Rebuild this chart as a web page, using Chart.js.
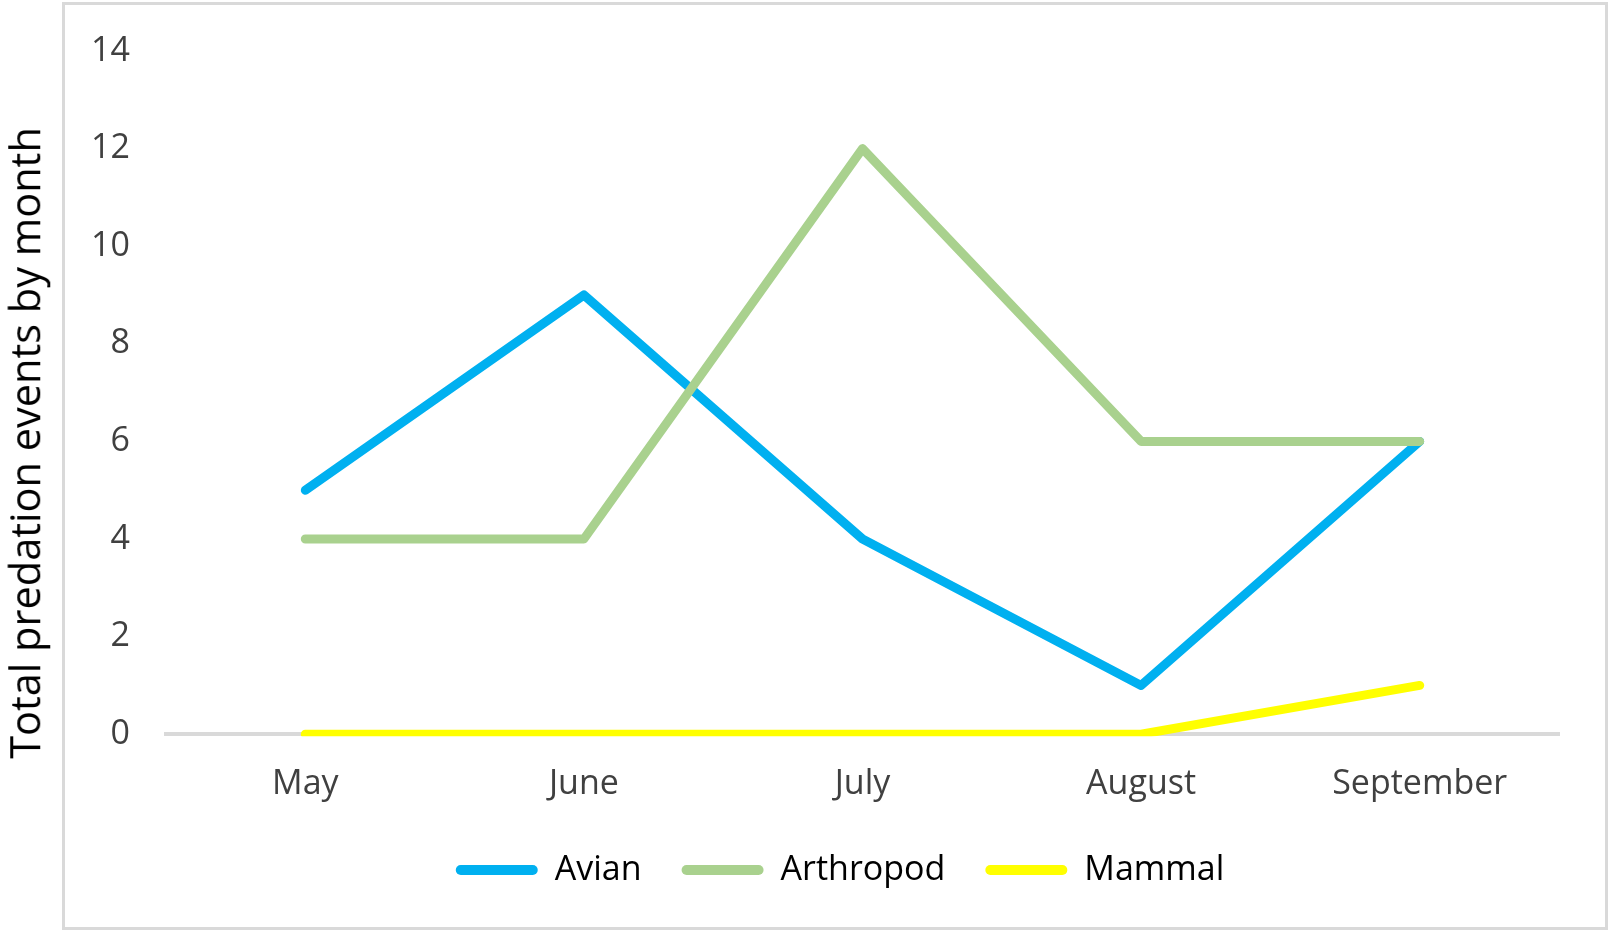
<!DOCTYPE html>
<html>
<head>
<meta charset="utf-8">
<script src="https://cdn.jsdelivr.net/npm/chart.js@4"></script>
<style>
  body { margin: 0; background: #fff; }
  #wrap { position: relative; width: 1608px; height: 930px; }
  #frame {
    position: absolute; left: 62px; top: 2px; width: 1546px; height: 928px;
    box-sizing: border-box; border: 3px solid #d9d9d9;
  }
  #chart { position: absolute; left: 0; top: 0; }
  #ytitle {
    position: absolute; left: 25px; top: 443px; width: 800px; margin-left: -400px;
    transform: translateY(-50%) rotate(-90deg); text-align: center;
    font: 41.5px "Open Sans"; color: #000; white-space: nowrap; line-height: 1;
  }
</style>
</head>
<body>
<div id="wrap">
  <div id="frame"></div>
  <canvas id="chart" width="1608" height="930"></canvas>
  <div id="ytitle">Total predation events by month</div>
</div>
<script>
const months = ["May", "June", "July", "August", "September"];
const avian = [5, 9, 4, 1, 6];
const arthropod = [4, 4, 12, 6, 6];
const mammal = [0, 0, 0, 0, 1];

const ctx = document.getElementById("chart");
const font = { family: "Open Sans", size: 34 };

function line(label, data, colour, order) {
  return {
    label: label,
    data: data,
    borderColor: colour,
    backgroundColor: colour,
    borderWidth: 9,
    borderCapStyle: "round",
    borderJoinStyle: "round",
    pointRadius: 0,
    tension: 0,
    order: order,
    clip: { left: false, top: false, right: false, bottom: 2 },
  };
}

// nudge the legend box so it sits where the original one is
const legendShift = {
  id: "legendShift",
  afterLayout(chart) {
    const lg = chart.legend;
    lg.left += 20;
    lg.right += 20;
    lg.top -= 22;
    lg.bottom -= 22;
  },
};

new Chart(ctx, {
  type: "line",
  data: {
    labels: months,
    datasets: [
      line("Avian", avian, "#00b0f0", 1),
      line("Arthropod", arthropod, "#a9d18e", 0), // green sits on top of blue
      line("Mammal", mammal, "#ffff00", 2),
    ],
  },
  options: {
    responsive: false,
    animation: false,
    layout: { padding: { left: 81, right: 49, top: 51, bottom: 11 } },
    plugins: {
      tooltip: { enabled: false },
      legend: {
        position: "bottom",
        labels: {
          font: font,
          color: "#000",
          boxWidth: 82,
          boxHeight: 10,
          padding: 40,
          useBorderRadius: true,
          borderRadius: 5,
          sort: (a, b) => a.datasetIndex - b.datasetIndex,
          generateLabels: (chart) =>
            Chart.defaults.plugins.legend.labels
              .generateLabels(chart)
              .map((item) => Object.assign(item, { lineWidth: 0 })),
        },
      },
    },
    scales: {
      x: {
        offset: true,
        grid: { display: false, drawTicks: false },
        border: { display: true, color: "#d9d9d9", width: 4 },
        ticks: { font: font, color: "#404040", padding: 30 },
      },
      y: {
        min: 0,
        max: 14,
        grid: { display: false, drawTicks: false },
        border: { display: false },
        ticks: { stepSize: 2, font: font, color: "#404040", padding: 36 },
        afterFit: (scale) => {
          scale.width = 85;
          scale.paddingTop = 0;
          scale.paddingBottom = 0;
        },
      },
    },
  },
  plugins: [legendShift],
});
</script>
</body>
</html>
